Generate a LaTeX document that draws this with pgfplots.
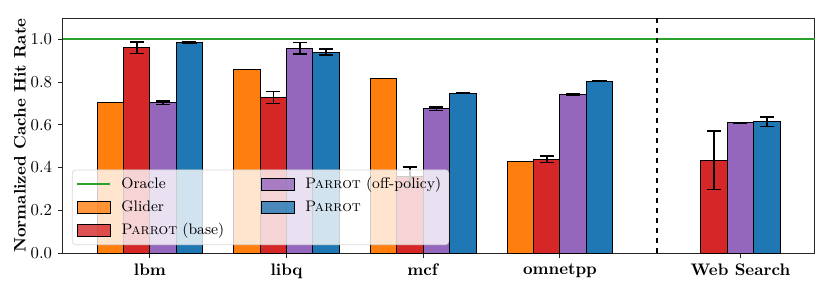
\documentclass[border=0pt]{standalone}
\usepackage{pgfplots}
\pgfplotsset{compat=1.18}
\definecolor{corange}{HTML}{FF7F0E}
\definecolor{cred}{HTML}{D62728}
\definecolor{cpurple}{HTML}{9467BD}
\definecolor{cblue}{HTML}{1F77B4}
\definecolor{cgreen}{HTML}{2CA02C}
\begin{document}
\begin{tikzpicture}
\begin{axis}[
  scale only axis,
  width=450.3pt, height=140.7pt,
  xmin=-0.6366, xmax=4.8659,
  ymin=0, ymax=1.1,
  xtick={0,1,2,3,4.3207},
  xticklabels={\textbf{lbm},\textbf{libq},\textbf{mcf},\textbf{omnetpp},\textbf{Web Search}},
  ytick={0,0.2,0.4,0.6,0.8,1.0},
  yticklabel style={/pgf/number format/.cd,fixed,fixed zerofill,precision=1},
  tick align=outside,
  tick pos=left,
  major tick length=3pt,
  every tick/.style={black!85, line width=0.6pt},
  axis line style={black!85, line width=0.6pt},
  ylabel={\textbf{Normalized Cache Hit Rate}},
  ylabel style={yshift=-4pt},
  legend columns=2,
  legend cell align=left,
  legend style={at={(0.012,0.034)}, anchor=south west, font=\fontsize{9.1}{11}\selectfont,
    fill=white, fill opacity=0.8, text opacity=1, draw=black!15, rounded corners=2pt,
    row sep=1.6pt, inner sep=2.5pt,
    /tikz/every odd column/.append style={column sep=4pt},
    /tikz/every even column/.append style={column sep=20pt}},
  error bars/y dir=both,
  error bars/y explicit,
  error bars/error bar style={black, line width=0.9pt},
  error bars/error mark options={rotate=90, mark size=4.2pt, black, line width=0.9pt},
]
% Oracle
\addplot[color=cgreen, line width=1.1pt, no marks, forget plot] table {
x y
-0.6366 1
4.8659 1
};
% separator
\addplot[black, dashed, line width=1pt, forget plot] coordinates {(3.7098,0) (3.7098,1.1)};
% Glider
\addplot[ybar, bar width=0.193, bar shift=0pt, fill=corange, draw=black, line width=0.6pt, forget plot]
  coordinates {(-0.2892,0.706) (0.7108,0.858) (1.7108,0.817) (2.7108,0.428)};
% Parrot (base)
\addplot[ybar, bar width=0.193, bar shift=0pt, fill=cred, draw=black, line width=0.6pt, forget plot]
  coordinates {(-0.0964,0.961) +- (0,0.026) (0.9036,0.728) +- (0,0.027) (1.9036,0.357) +- (0,0.046) (2.9036,0.439) +- (0,0.016) (4.1277,0.434) +- (0,0.136)};
% Parrot (off-policy)
\addplot[ybar, bar width=0.193, bar shift=0pt, fill=cpurple, draw=black, line width=0.6pt, forget plot]
  coordinates {(0.0964,0.703) +- (0,0.008) (1.0964,0.959) +- (0,0.027) (2.0964,0.676) +- (0,0.008) (3.0964,0.741) +- (0,0.003) (4.3207,0.609) +- (0,0.003)};
% Parrot
\addplot[ybar, bar width=0.193, bar shift=0pt, fill=cblue, draw=black, line width=0.6pt, forget plot]
  coordinates {(0.2892,0.986) +- (0,0.003) (1.2892,0.941) +- (0,0.014) (2.2892,0.748) +- (0,0.001) (3.2892,0.805) +- (0,0.001) (4.5137,0.614) +- (0,0.022)};
% legend (row-wise order gives the column layout of the reference)
\addlegendimage{legend image code/.code={\draw[sharp corners, cgreen, line width=1.1pt] (0pt,0pt) -- (19.8pt,0pt);}}
\addlegendentry{Oracle}
\addlegendimage{legend image code/.code={\draw[sharp corners, fill=cpurple, draw=black, line width=0.6pt] (0pt,-3.6pt) rectangle (19.8pt,3.6pt);}}
\addlegendentry{\textsc{Parrot} (off-policy)}
\addlegendimage{legend image code/.code={\draw[sharp corners, fill=corange, draw=black, line width=0.6pt] (0pt,-3.6pt) rectangle (19.8pt,3.6pt);}}
\addlegendentry{Glider}
\addlegendimage{legend image code/.code={\draw[sharp corners, fill=cblue, draw=black, line width=0.6pt] (0pt,-3.6pt) rectangle (19.8pt,3.6pt);}}
\addlegendentry{\textsc{Parrot}}
\addlegendimage{legend image code/.code={\draw[sharp corners, fill=cred, draw=black, line width=0.6pt] (0pt,-3.6pt) rectangle (19.8pt,3.6pt);}}
\addlegendentry{\textsc{Parrot} (base)}
\end{axis}
\path ([shift={(-37.7pt,-22.75pt)}]current axis.south west) rectangle ([shift={(9pt,10.8pt)}]current axis.north east);
\end{tikzpicture}
\end{document}
